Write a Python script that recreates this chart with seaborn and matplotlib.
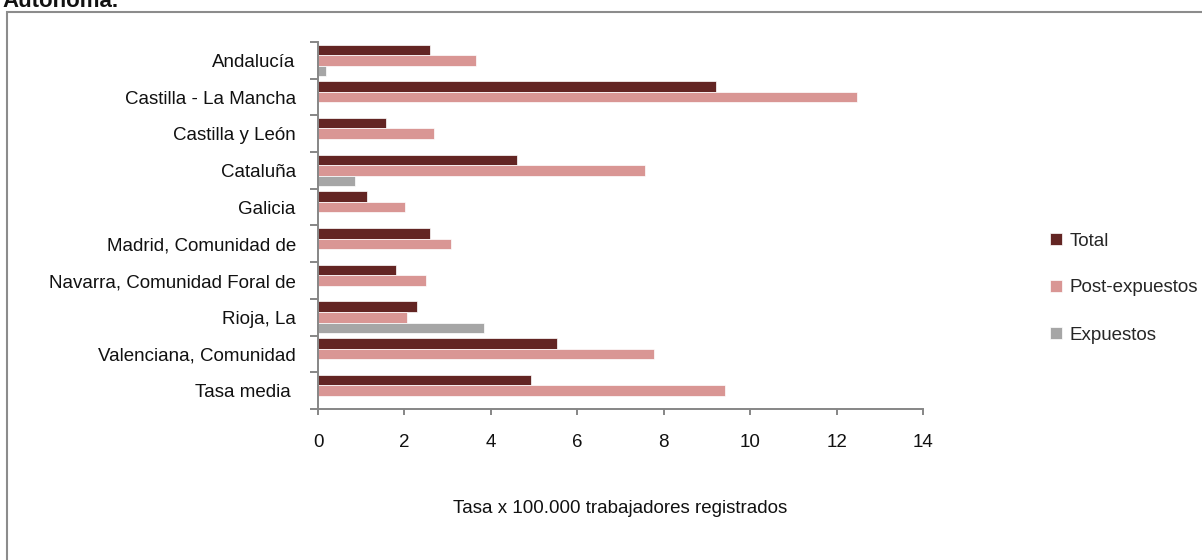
import numpy as np
import pandas as pd
import matplotlib.pyplot as plt
import seaborn as sns
from matplotlib.patches import Rectangle
from matplotlib.ticker import FixedLocator

# data
categories = ["Andalucía", "Castilla - La Mancha", "Castilla y León", "Cataluña", "Galicia",
              "Madrid, Comunidad de", "Navarra, Comunidad Foral de", "Rioja, La",
              "Valenciana, Comunidad", "Tasa media "]
total = [2.60, 9.21, 1.57, 4.60, 1.13, 2.59, 1.80, 2.28, 5.52, 4.94]
post_expuestos = [3.66, 12.48, 2.69, 7.57, 2.02, 3.08, 2.50, 2.05, 7.78, 9.42]
expuestos = [0.19, np.nan, np.nan, 0.86, np.nan, np.nan, np.nan, 3.83, np.nan, np.nan]
series = ["Total", "Post-expuestos", "Expuestos"]
colors = ["#632523", "#D99694", "#A6A6A6"]

df = pd.DataFrame({"region": categories, "Total": total,
                   "Post-expuestos": post_expuestos, "Expuestos": expuestos})
long = df.melt(id_vars="region", var_name="serie", value_name="tasa").dropna()

sns.set_theme(style="white")
plt.rcParams['font.family'] = ['Liberation Sans', 'DejaVu Sans']
FS = 13.5
txt_c = "#111111"

fig = plt.figure(figsize=(12.02, 5.6), dpi=100)
W, H = 1202, 560
ax = fig.add_axes([318 / W, 1 - 409 / H, (923 - 318) / W, (409 - 42) / H])

sns.barplot(data=long, y="region", x="tasa", hue="serie", order=categories,
            hue_order=series, palette=colors, saturation=1, orient="h", width=0.86,
            edgecolor="white", linewidth=0.5, errorbar=None, ax=ax)

ax.set_xlim(0, 14)
ax.set_ylim(len(categories) - 0.5, -0.5)
ax.set_xticks(range(0, 15, 2))
ax.set_ylabel("")
ax.set_xlabel("Tasa x 100.000 trabajadores registrados", fontsize=FS, labelpad=35, color=txt_c)

spine_c = "#868686"
for s in ["top", "right"]:
    ax.spines[s].set_visible(False)
for s in ["left", "bottom"]:
    ax.spines[s].set_color(spine_c)
    ax.spines[s].set_linewidth(1.4)

ax.yaxis.set_minor_locator(FixedLocator(np.arange(-0.5, len(categories), 1)))
ax.tick_params(axis="y", which="major", length=0, pad=16, labelsize=FS, labelcolor=txt_c)
ax.tick_params(axis="y", which="minor", left=True, length=5.5, width=1.4, color=spine_c)
ax.tick_params(axis="x", which="major", bottom=True, length=4, width=1.4, color=spine_c,
               pad=14, labelsize=FS, labelcolor=txt_c)

handles, labels = ax.get_legend_handles_labels()
ax.legend_.remove()
fig.legend(handles, labels, loc="center left", bbox_to_anchor=(1041 / W, 1 - 288 / H),
           frameon=False, borderpad=0, handlelength=0.6, handleheight=0.6,
           handletextpad=0.4, labelspacing=1.6, fontsize=FS)

# outer chart frame (cut off at right and bottom) and clipped heading above
fig.patches.append(Rectangle((7 / W, -0.1), 2, 1 - 12 / H + 0.1, transform=fig.transFigure,
                             fill=False, edgecolor="#8C8C8C", linewidth=1.5))
fig.text(2 / W, 1 - 7 / H, "Autónoma.", fontsize=16, fontweight="bold",
         va="baseline", ha="left", color=txt_c)

fig.savefig("out.png", dpi=100)
